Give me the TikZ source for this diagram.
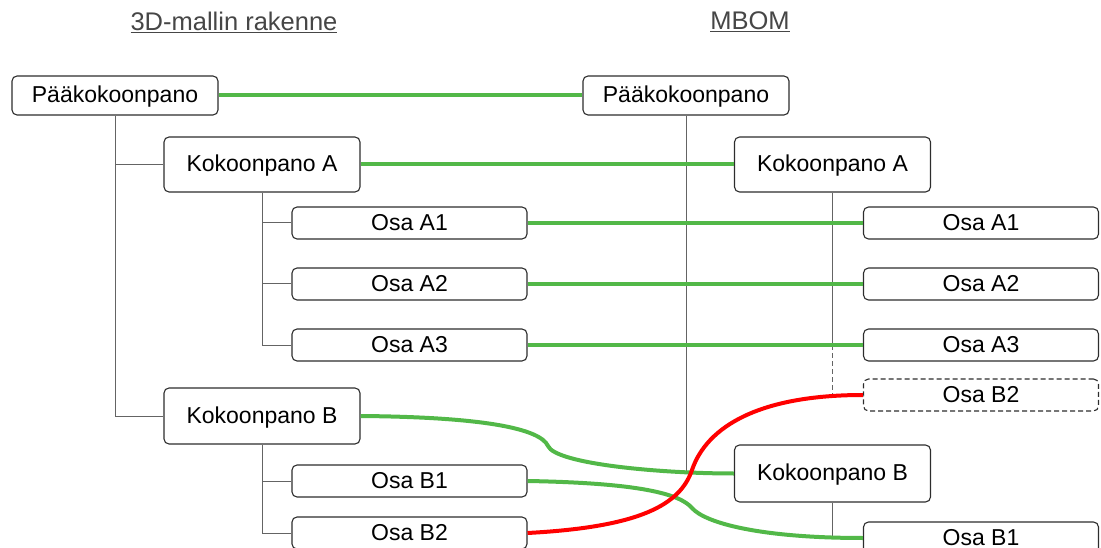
\documentclass[tikz,border=0pt]{standalone}
\usepackage{fontspec}
\setmainfont{Liberation Sans}
\usepackage{xcolor}
\definecolor{vert}{RGB}{82,184,72}
\definecolor{bord}{RGB}{45,45,45}
\definecolor{trait}{RGB}{100,100,100}
\definecolor{titre}{RGB}{70,70,70}

\begin{document}
\begin{tikzpicture}[
    x=1pt, y=-1pt,
    boite/.style={rectangle, draw=bord, line width=1.1pt, rounded corners=5pt, inner sep=0pt, minimum height=32pt, text height=16.5pt, text depth=2pt, font=\fontsize{23}{27}\selectfont},
    osa/.style={boite, minimum width=235pt},
    kok/.style={boite, minimum width=196pt, minimum height=55pt},
    paa/.style={boite, minimum width=206pt, minimum height=39pt},
    titrestyle/.style={inner sep=0pt, text=titre, font=\fontsize{25.5}{30}\selectfont},
    arbre/.style={draw=trait, line width=1pt},
    lien/.style={draw=vert, line width=4pt},
    mauvais/.style={draw=red, line width=4pt}
]
\useasboundingbox (0,0) rectangle (1101,548);

% Titres des colonnes
\node[titrestyle] (titreL) at (234,22) {\underline{3D-mallin rakenne}};
\node[titrestyle] (titreR) at (750,22) {\underline{MBOM}};

% Structure du modele 3D (colonne gauche)
\node[paa] (paaL) at (115,95.5) {Pääkokoonpano};
\node[kok] (kokAL) at (262,164.5) {Kokoonpano A};
\node[osa] (osaA1L) at (409.5,223) {Osa A1};
\node[osa] (osaA2L) at (409.5,284) {Osa A2};
\node[osa] (osaA3L) at (409.5,345) {Osa A3};
\node[kok, minimum height=56pt] (kokBL) at (262,416) {Kokoonpano B};
\node[osa] (osaB1L) at (409.5,481) {Osa B1};
\node[osa] (osaB2L) at (409.5,533) {Osa B2};

% MBOM (colonne droite)
\node[paa] (paaR) at (686,95.5) {Pääkokoonpano};
\node[kok] (kokAR) at (832.5,164.5) {Kokoonpano A};
\node[osa] (osaA1R) at (981,223) {Osa A1};
\node[osa] (osaA2R) at (981,284) {Osa A2};
\node[osa] (osaA3R) at (981,345) {Osa A3};
\node[osa, dash pattern=on 5pt off 3pt] (osaB2R) at (981,395) {Osa B2};
\node[kok, minimum height=57pt] (kokBR) at (832.5,473.5) {Kokoonpano B};
\node[osa] (osaB1R) at (981,538) {Osa B1};

% Arbre de gauche
\draw[arbre] (paaL.south) |- (kokBL.west);
\draw[arbre] (paaL.south |- kokAL.west) -- (kokAL.west);
\draw[arbre] (kokAL.south) |- (osaA3L.west);
\draw[arbre] (kokAL.south |- osaA1L.west) -- (osaA1L.west);
\draw[arbre] (kokAL.south |- osaA2L.west) -- (osaA2L.west);
\draw[arbre] (kokBL.south) |- (osaB2L.west);
\draw[arbre] (kokBL.south |- osaB1L.west) -- (osaB1L.west);

% Arbre de droite
\draw[arbre] (paaR.south) |- (kokBR.west);
\draw[arbre] (paaR.south |- kokAR.west) -- (kokAR.west);
\draw[arbre] (kokAR.south) |- (osaA3R.west);
\draw[arbre] (kokAR.south |- osaA1R.west) -- (osaA1R.west);
\draw[arbre] (kokAR.south |- osaA2R.west) -- (osaA2R.west);
\draw[arbre, dash pattern=on 5pt off 3pt] (kokAR.south |- osaA3R.west) |- (osaB2R.west);
\draw[arbre] (kokBR.south) |- (osaB1R.west);

% Correspondances
\draw[lien] (paaL.east) -- (paaR.west);
\draw[lien] (kokAL.east) -- (kokAR.west);
\draw[lien] (osaA1L.east) -- (osaA1R.west);
\draw[lien] (osaA2L.east) -- (osaA2R.west);
\draw[lien] (osaA3L.east) -- (osaA3R.west);
\draw[lien] (kokBL.east) .. controls (480,417) and (540,428) .. (548,446)
    .. controls (556,464) and (660,473.5) .. (kokBR.west);
\draw[lien] (osaB1L.east) .. controls (640,483) and (680,494) .. (692,508)
    .. controls (705,523) and (760,538) .. (osaB1R.west);
\draw[mauvais] (osaB2L.east) .. controls (640,527) and (680,505) .. (692,470)
    .. controls (707,426) and (760,395) .. (osaB2R.west);

\end{tikzpicture}
\end{document}
